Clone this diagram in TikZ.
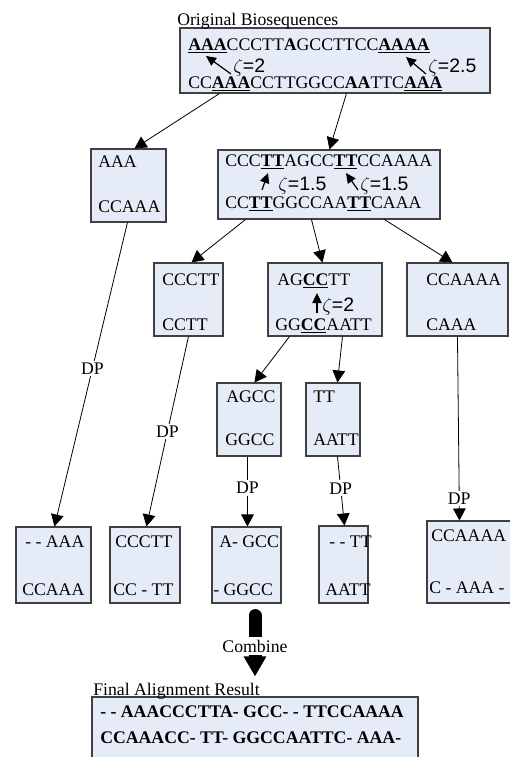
\documentclass[tikz,border=0pt]{standalone}
\usepackage{fontspec}
\setmainfont{Liberation Serif}
\newfontfamily\zfont{Liberation Sans}
\usetikzlibrary{arrows.meta,fit,calc}
\definecolor{boxfill}{HTML}{E6ECF7}
\newcommand{\zl}[1]{$\zeta${\zfont=#1}}
\newcommand{\ub}[1]{\underline{\textbf{#1}}}
\begin{document}
\begin{tikzpicture}[x=0.75pt,y=-0.75pt,
  font=\fontsize{13.3}{16}\selectfont,
  box/.style={draw=black!75, line width=0.8pt, fill=boxfill, inner sep=0pt},
  txt/.style={anchor=base west, inner sep=0pt},
  conn/.style={draw=black, line width=0.6pt, -{Triangle[length=9pt,width=9.5pt]}},
  zarr/.style={line width=0.9pt, -{Triangle[length=7.5pt,width=7pt]}},
  dp/.style={fill=white, inner sep=1.5pt},
  zlab/.style={anchor=base west, inner sep=0pt, font=\fontsize{14.6}{16}\selectfont}]
\useasboundingbox (0,0) rectangle (510,757);
% boxes
\node[box, fit={(180,28) (490,93)}] (top) {};
\node[box, fit={(91,149) (166,222)}] (aaa) {};
\node[box, fit={(218,150) (440,219)}] (mid) {};
\node[box, fit={(154,263) (223,336)}] (ccctt) {};
\node[box, fit={(268,263) (382,336)}] (agcctt) {};
\node[box, fit={(407,263) (508,336)}] (ccaaaa) {};
\node[box, fit={(217,383) (281,456)}] (agcc) {};
\node[box, fit={(306,383) (360,456)}] (tt) {};
\node[box, fit={(16,527) (91,603)}] (r1) {};
\node[box, fit={(110,527) (180,603)}] (r2) {};
\node[box, fit={(212,527) (281,603)}] (r3) {};
\node[box, fit={(319,526) (368,603)}] (r4) {};
\node[box, fit={(427,521) (530,603)}] (r5) {};
\node[box, fit={(92,697) (418,790)}] (final) {};
% titles
\node[txt] (t1) at (177,25) {Original Biosequences};
\node[txt] (t2) at (93,695) {Final Alignment Result};
% top box texts
\node[txt] (a1) at (188,50) {\ub{AAA}CCCTT\textbf{A}GCCTTCC\ub{AAAA}};
\node[zlab] (z1) at (233,72) {\zl{2}};
\node[zlab] (z2) at (428,72) {\zl{2.5}};
\node[txt] (a2) at (188,88) {CC\ub{AAA}CCTTGGCC\textbf{AA}TTC\ub{AAA}};
\draw[zarr] (231,74) -- (206,56);
\draw[zarr] (426,74) -- (406,57);
% aaa box
\node[txt] (b1) at (98,167) {AAA};
\node[txt] (b2) at (98,212) {CCAAA};
% mid box
\node[txt] (c1) at (225,166) {CCC\ub{TT}AGCC\ub{TT}CCAAAA};
\node[zlab] (z3) at (278,190) {\zl{1.5}};
\node[zlab] (z4) at (360,190) {\zl{1.5}};
\node[txt] (c2) at (225,208) {CC\ub{TT}GGCCAA\ub{TT}CAAA};
\draw[zarr] (262,190) -- (268,173);
\draw[zarr] (358,190) -- (346,173);
% second row
\node[txt] (d1) at (162,285) {CCCTT};
\node[txt] (d2) at (162,330) {CCTT};
\node[txt] (e1) at (277,285) {AG\ub{CC}TT};
\node[zlab] (z5) at (322,311) {\zl{2}};
\node[txt] (e2) at (275,330) {GG\ub{CC}AATT};
\draw[zarr] (317,313) -- (317,293);
\node[txt] (f1) at (426,285) {CCAAAA};
\node[txt] (f2) at (426,330) {CAAA};
% third row
\node[txt] (g1) at (226,402) {AGCC};
\node[txt] (g2) at (225,445) {GGCC};
\node[txt] (h1) at (313,402) {TT};
\node[txt] (h2) at (313,445) {AATT};
% results
\node[txt] (i1) at (25,547) {- - AAA};
\node[txt] (i2) at (22,595) {CCAAA};
\node[txt] (j1) at (115,547) {CCCTT};
\node[txt] (j2) at (113,595) {CC - TT};
\node[txt] (k1) at (219,547) {A- GCC};
\node[txt] (k2) at (213,595) {- GGCC};
\node[txt] (l1) at (329,547) {- - TT};
\node[txt] (l2) at (325,595) {AATT};
\node[txt] (m1) at (431,541) {CCAAAA};
\node[txt] (m2) at (429,593) {C - AAA -};
% final
\node[txt] (n1) at (100,717) {\textbf{- - AAACCCTTA- GCC- - TTCCAAAA}};
\node[txt] (n2) at (100,743) {\textbf{CCAAACC- TT- GGCCAATTC- AAA-}};
% connectors
\draw[conn] ($(top.south west)+(40,0)$) -- ($(aaa.north west)+(44,0)$);
\draw[conn] ($(top.south west)+(167,0)$) -- ($(mid.north west)+(112,0)$);
\draw[conn] ($(aaa.south west)+(37,0)$) -- node[dp, pos=0.48] (dp1) {DP} ($(r1.north west)+(39,0)$);
\draw[conn] ($(mid.south west)+(28,0)$) -- ($(ccctt.north west)+(38,0)$);
\draw[conn] ($(mid.south west)+(94,0)$) -- ($(agcctt.north west)+(55,0)$);
\draw[conn] ($(mid.south west)+(167,0)$) -- ($(ccaaaa.north west)+(46,0)$);
\draw[conn] ($(ccctt.south west)+(35,0)$) -- node[dp, pos=0.5] (dp2) {DP} ($(r2.north west)+(37,0)$);
\draw[conn] ($(agcctt.south west)+(22,0)$) -- ($(agcc.north west)+(38,0)$);
\draw[conn] ($(agcctt.south west)+(75,0)$) -- ($(tt.north west)+(32,0)$);
\draw[conn] ($(ccaaaa.south west)+(51,0)$) -- node[dp, pos=0.88] (dp5) {DP} ($(r5.north west)+(33,0)$);
\draw[conn] ($(agcc.south west)+(31,0)$) -- node[dp, pos=0.45] (dp3) {DP} ($(r3.north west)+(36,0)$);
\draw[conn] ($(tt.south west)+(32,0)$) -- node[dp, pos=0.46] (dp4) {DP} ($(r4.north west)+(26,0)$);
% combine
\draw[line width=9.75pt, line cap=round, -{Triangle[length=15pt,width=16pt]}, shorten <=9pt, shorten >=15pt]
  (r3.south -| final.north) -- node[fill=white, inner sep=2pt, pos=0.46] (comb) {Combine} (final.north);
\end{tikzpicture}
\end{document}
